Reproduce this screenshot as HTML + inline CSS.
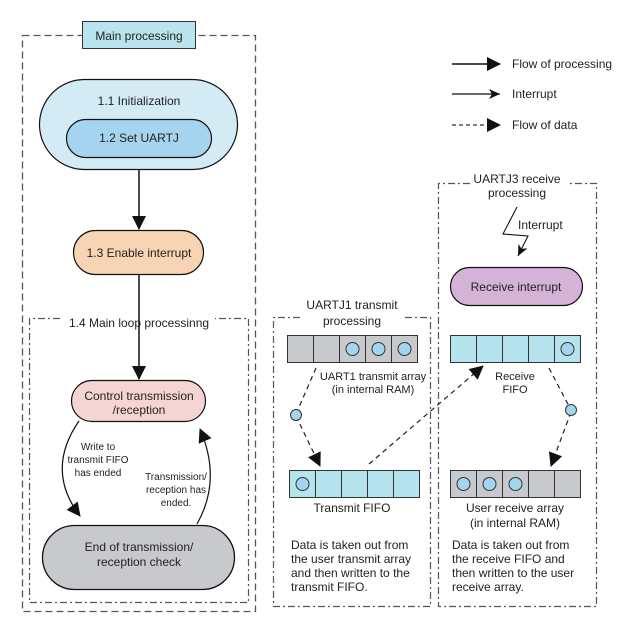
<!DOCTYPE html>
<html><head><meta charset="utf-8"><style>
html,body{margin:0;padding:0;background:#fff;}
svg{display:block;font-family:"Liberation Sans",Arial,sans-serif;}
text{fill:#222;}
</style></head><body>
<svg width="619" height="619" viewBox="0 0 619 619" xmlns="http://www.w3.org/2000/svg">
<defs>
<marker id="ah" markerWidth="10" markerHeight="10" refX="9" refY="5" orient="auto" markerUnits="userSpaceOnUse"><path d="M0,0 L10,5 L0,10 z" fill="#111"/></marker>
<marker id="ahb" markerWidth="14" markerHeight="14" refX="13" refY="7" orient="auto" markerUnits="userSpaceOnUse"><path d="M0,0 L14,7 L0,14 z" fill="#111"/></marker>
<marker id="aho" markerWidth="12" markerHeight="10" refX="11" refY="5" orient="auto" markerUnits="userSpaceOnUse"><path d="M0,0 L11,5 L0,10 L3,5 z" fill="#111"/></marker>
</defs>

<!-- Main processing outer dashed -->
<rect x="22.5" y="35.5" width="233" height="576" fill="none" stroke="#555" stroke-width="1.3" stroke-dasharray="7,4"/>
<rect x="82.5" y="21.5" width="113" height="27" fill="#b9e4ee" stroke="#333" stroke-width="1"/>
<text x="139" y="40" font-size="12" text-anchor="middle">Main processing</text>

<rect x="39.5" y="79.5" width="198" height="90" rx="45" fill="#d3ebf4" stroke="#111" stroke-width="1.2"/>
<text x="139" y="105" font-size="12" text-anchor="middle">1.1 Initialization</text>
<rect x="66.5" y="119.5" width="145" height="38" rx="19" fill="#a5d4ef" stroke="#111" stroke-width="1.2"/>
<text x="139" y="142" font-size="12" text-anchor="middle">1.2 Set UARTJ</text>

<line x1="139" y1="170" x2="139" y2="229" stroke="#111" stroke-width="1.5" marker-end="url(#ahb)"/>
<rect x="73.5" y="230.5" width="130" height="44" rx="22" fill="#f7d4b3" stroke="#111" stroke-width="1.2"/>
<text x="139" y="257" font-size="12" text-anchor="middle">1.3 Enable interrupt</text>
<line x1="139" y1="275" x2="139" y2="379" stroke="#111" stroke-width="1.5" marker-end="url(#ahb)"/>

<!-- inner loop box -->
<path d="M60,318.5 H29.5 V602.5 H248.5 V318.5 H215" fill="none" stroke="#555" stroke-width="1.2" stroke-dasharray="7,3,2,3"/>
<text x="139" y="327" font-size="12" text-anchor="middle">1.4 Main loop processinng</text>

<rect x="71.5" y="380.5" width="134" height="41" rx="20.5" fill="#f5d5d3" stroke="#111" stroke-width="1.2"/>
<text x="139" y="400" font-size="12" text-anchor="middle">Control transmission</text>
<text x="139" y="414" font-size="12" text-anchor="middle">/reception</text>

<rect x="42.5" y="525.5" width="192" height="64" rx="32" fill="#c8c9cc" stroke="#111" stroke-width="1.3"/>
<text x="139" y="551" font-size="12" text-anchor="middle">End of transmission/</text>
<text x="139" y="566" font-size="12" text-anchor="middle">reception check</text>

<path d="M79,421 Q45,470 80,516" fill="none" stroke="#111" stroke-width="1.2" marker-end="url(#ahb)"/>
<path d="M197,524 Q222,480 200,429" fill="none" stroke="#111" stroke-width="1.2" marker-end="url(#ahb)"/>
<g font-size="10" text-anchor="middle">
<text x="98" y="450">Write to</text>
<text x="98" y="463">transmit FIFO</text>
<text x="98" y="476">has ended</text>
<text x="176" y="480">Transmission/</text>
<text x="176" y="493">reception has</text>
<text x="176" y="506">ended.</text>
</g>

<!-- Legend -->
<line x1="452" y1="64" x2="500" y2="64" stroke="#111" stroke-width="1.5" marker-end="url(#ahb)"/>
<text x="512" y="68" font-size="12">Flow of processing</text>
<line x1="452" y1="94" x2="500" y2="94" stroke="#111" stroke-width="1.2" marker-end="url(#aho)"/>
<text x="512" y="98" font-size="12">Interrupt</text>
<line x1="452" y1="125" x2="500" y2="125" stroke="#333" stroke-width="1.2" stroke-dasharray="4,3" marker-end="url(#ahb)"/>
<text x="512" y="129" font-size="12">Flow of data</text>

<!-- UARTJ1 box -->
<path d="M300,317.5 H273.5 V606.5 H430.5 V317.5 H405" fill="none" stroke="#555" stroke-width="1.2" stroke-dasharray="7,3,2,3"/>
<text x="352" y="309" font-size="12" text-anchor="middle">UARTJ1 transmit</text>
<text x="352" y="325" font-size="12" text-anchor="middle">processing</text>

<g stroke="#333" stroke-width="1">
<rect x="287.5" y="335.5" width="26" height="27" fill="#c8c9cc"/>
<rect x="313.5" y="335.5" width="26" height="27" fill="#c8c9cc"/>
<rect x="339.5" y="335.5" width="26" height="27" fill="#c8c9cc"/>
<rect x="365.5" y="335.5" width="26" height="27" fill="#c8c9cc"/>
<rect x="391.5" y="335.5" width="26" height="27" fill="#c8c9cc"/>
<circle cx="352.5" cy="349" r="6.5" fill="#a5d4ef"/>
<circle cx="378.5" cy="349" r="6.5" fill="#a5d4ef"/>
<circle cx="404.5" cy="349" r="6.5" fill="#a5d4ef"/>

<rect x="289.5" y="470.5" width="26" height="27" fill="#b5e3ee"/>
<rect x="315.5" y="470.5" width="26" height="27" fill="#b5e3ee"/>
<rect x="341.5" y="470.5" width="26" height="27" fill="#b5e3ee"/>
<rect x="367.5" y="470.5" width="26" height="27" fill="#b5e3ee"/>
<rect x="393.5" y="470.5" width="26" height="27" fill="#b5e3ee"/>
<circle cx="302.5" cy="484" r="6.5" fill="#a5d4ef"/>

<rect x="450.5" y="335.5" width="26" height="27" fill="#b5e3ee"/>
<rect x="476.5" y="335.5" width="26" height="27" fill="#b5e3ee"/>
<rect x="502.5" y="335.5" width="26" height="27" fill="#b5e3ee"/>
<rect x="528.5" y="335.5" width="26" height="27" fill="#b5e3ee"/>
<rect x="554.5" y="335.5" width="26" height="27" fill="#b5e3ee"/>
<circle cx="567.5" cy="349" r="6.5" fill="#a5d4ef"/>

<rect x="450.5" y="470.5" width="26" height="27" fill="#c8c9cc"/>
<rect x="476.5" y="470.5" width="26" height="27" fill="#c8c9cc"/>
<rect x="502.5" y="470.5" width="26" height="27" fill="#c8c9cc"/>
<rect x="528.5" y="470.5" width="26" height="27" fill="#c8c9cc"/>
<rect x="554.5" y="470.5" width="26" height="27" fill="#c8c9cc"/>
<circle cx="463.5" cy="484" r="6.5" fill="#a5d4ef"/>
<circle cx="489.5" cy="484" r="6.5" fill="#a5d4ef"/>
<circle cx="515.5" cy="484" r="6.5" fill="#a5d4ef"/>
</g>

<g font-size="11" text-anchor="middle">
<text x="373" y="380">UART1 transmit array</text>
<text x="373" y="393">(in internal RAM)</text>
<text x="352" y="512" font-size="12">Transmit FIFO</text>
<text x="515" y="380">Receive</text>
<text x="515" y="393">FIFO</text>
<text x="515" y="512" font-size="12">User receive array</text>
<text x="515" y="527" font-size="12">(in internal RAM)</text>
</g>
<g font-size="12">
<text x="291" y="549">Data is taken out from</text>
<text x="291" y="563">the user transmit array</text>
<text x="291" y="577">and then written to the</text>
<text x="291" y="591">transmit FIFO.</text>
<text x="452" y="549">Data is taken out from</text>
<text x="452" y="563">the receive FIFO and</text>
<text x="452" y="577">then written to the user</text>
<text x="452" y="591">receive array.</text>
</g>

<!-- dashed data arrows -->
<g fill="none" stroke="#222" stroke-width="1.2" stroke-dasharray="5,4">
<path d="M316,368 L296,414" />
<path d="M296,416 L320,466" marker-end="url(#ahb)"/>
<path d="M369,464 L483,366" marker-end="url(#ahb)"/>
<path d="M549,368 L571,410"/>
<path d="M571,412 L551,466" marker-end="url(#ahb)"/>
</g>
<circle cx="296" cy="415" r="5.5" fill="#a5d4ef" stroke="#333" stroke-width="1"/>
<circle cx="571" cy="410" r="5.5" fill="#a5d4ef" stroke="#333" stroke-width="1"/>

<!-- UARTJ3 box -->
<path d="M470,183.5 H438.5 V606.5 H596.5 V183.5 H570" fill="none" stroke="#555" stroke-width="1.2" stroke-dasharray="7,3,2,3"/>
<text x="517" y="183" font-size="12" text-anchor="middle">UARTJ3 receive</text>
<text x="517" y="197" font-size="12" text-anchor="middle">processing</text>
<path d="M517,207 L503,234 L528,236 L518,256" fill="none" stroke="#111" stroke-width="1.1" marker-end="url(#aho)"/>
<text x="518" y="229" font-size="12">Interrupt</text>
<rect x="450.5" y="267.5" width="132" height="38" rx="19" fill="#d5b3d8" stroke="#111" stroke-width="1.2"/>
<text x="516" y="291" font-size="12" text-anchor="middle">Receive interrupt</text>
</svg>
</body></html>
